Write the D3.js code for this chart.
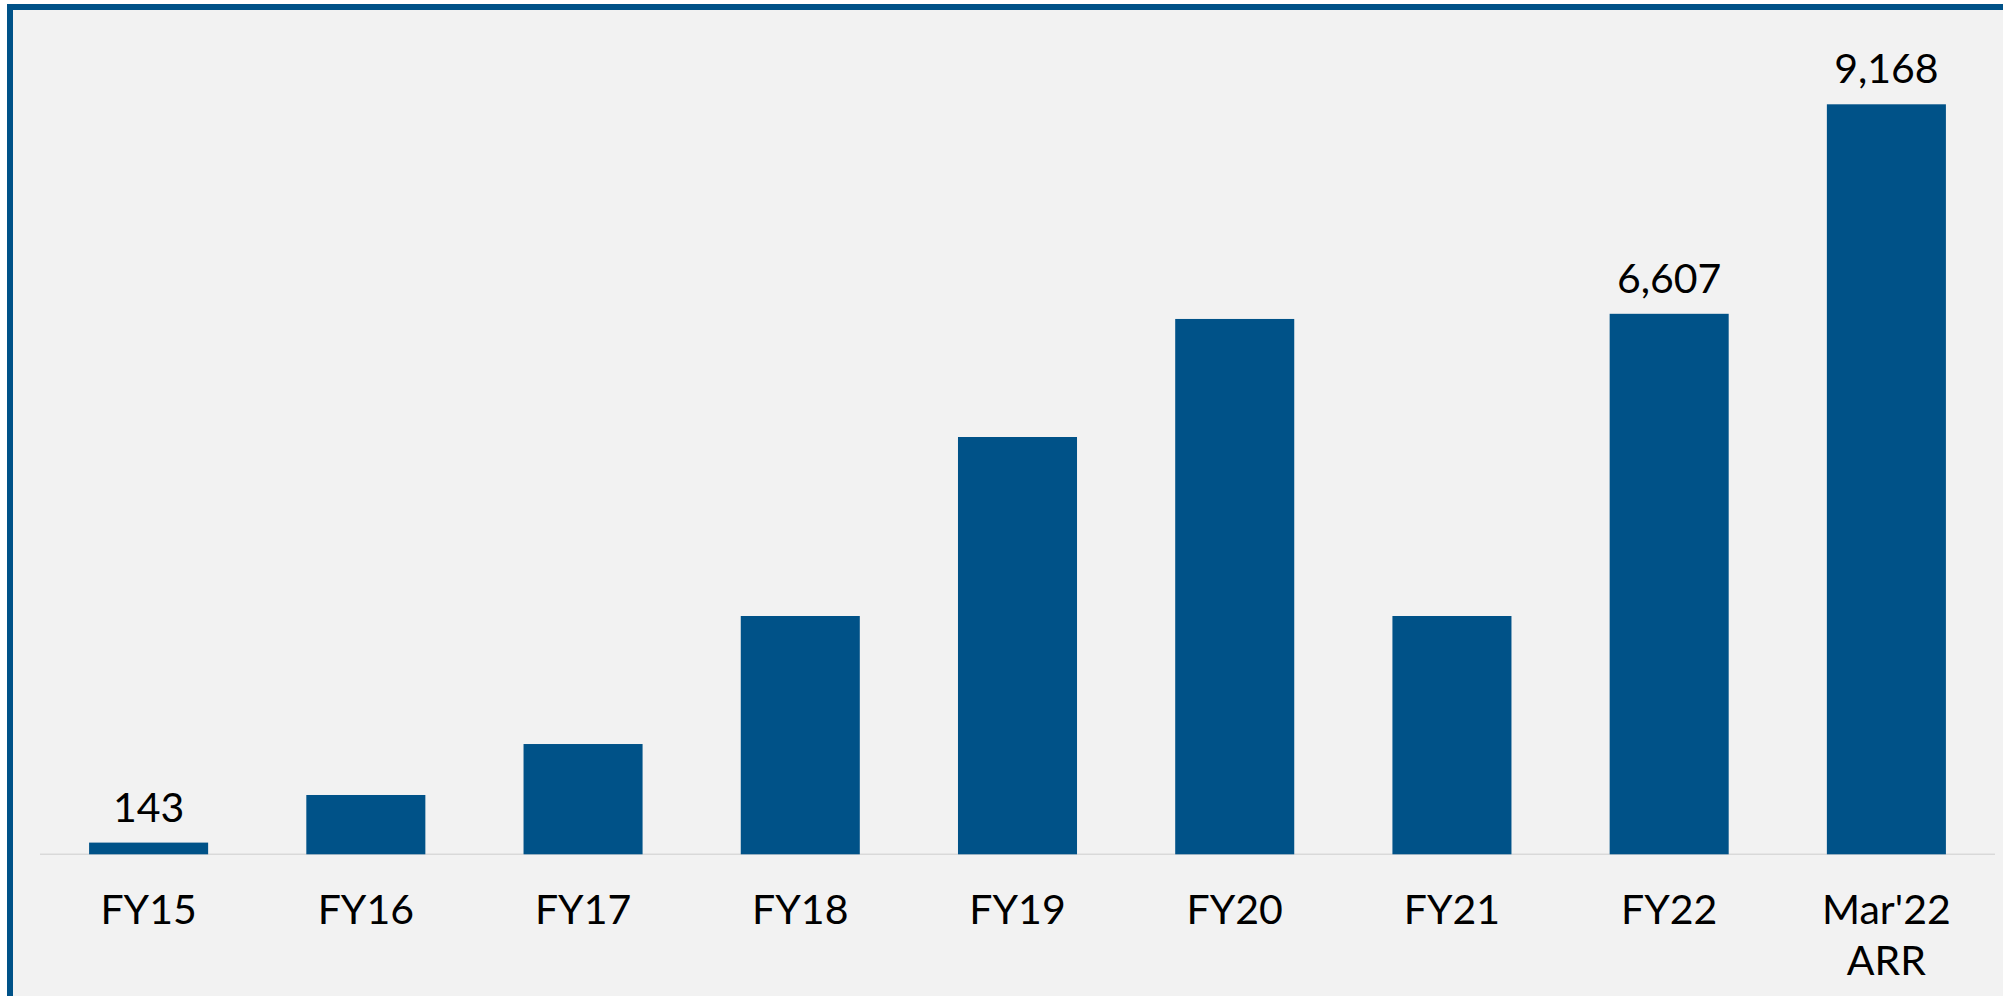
<!DOCTYPE html>
<html>
<head>
<meta charset="utf-8">
<script src="https://cdn.jsdelivr.net/npm/d3@7"></script>
<style>
  html, body { margin: 0; padding: 0; background: #ffffff; }
  svg { display: block; }
</style>
</head>
<body>
<div class="chart"></div>
<script>
// categories and values
const categories = ["FY15", "FY16", "FY17", "FY18", "FY19", "FY20", "FY21", "FY22", "Mar'22\nARR"];
const values = [143, 725, 1348, 2913, 5101, 6544, 2913, 6607, 9168];
// only some bars carry a value label
const valueLabels = ["143", "", "", "", "", "", "", "6,607", "9,168"];

const W = 2003, H = 996;
const barColor = "#005288";
const fontFamily = "Lato, 'Noto Sans', sans-serif";

const svg = d3.select(".chart")
  .append("svg")
  .attr("width", W)
  .attr("height", H);

// panel background + frame (only top and left edges visible)
svg.append("rect")
  .attr("x", 7).attr("y", 4)
  .attr("width", W - 7).attr("height", H - 4)
  .attr("fill", "#f2f2f2");
svg.append("rect")
  .attr("x", 7).attr("y", 4)
  .attr("width", W - 7).attr("height", 6)
  .attr("fill", barColor);
svg.append("rect")
  .attr("x", 7).attr("y", 4)
  .attr("width", 6).attr("height", H - 4)
  .attr("fill", barColor);

// scales
const xScale = d3.scaleBand()
  .domain(categories)
  .range([40, 1995])
  .paddingInner(0.452)
  .paddingOuter(0.226);

const yScale = d3.scaleLinear()
  .domain([0, 9168])
  .range([854.3, 104.3]);

// baseline
svg.append("line")
  .attr("x1", 40).attr("x2", 1995)
  .attr("y1", yScale(0)).attr("y2", yScale(0))
  .attr("stroke", "#d9d9d9")
  .attr("stroke-width", 1.5);

const data = categories.map((c, i) => ({ cat: c, value: values[i], label: valueLabels[i] }));

// bars
svg.selectAll("rect.bar")
  .data(data)
  .join("rect")
  .attr("class", "bar")
  .attr("x", d => xScale(d.cat))
  .attr("y", d => yScale(d.value))
  .attr("width", xScale.bandwidth())
  .attr("height", d => yScale(0) - yScale(d.value))
  .attr("fill", barColor);

// value labels
svg.selectAll("text.val")
  .data(data.filter(d => d.label !== ""))
  .join("text")
  .attr("class", "val")
  .attr("x", d => xScale(d.cat) + xScale.bandwidth() / 2)
  .attr("y", d => yScale(d.value) - 21)
  .attr("text-anchor", "middle")
  .style("font-family", fontFamily)
  .style("font-size", "41px")
  .style("fill", "#000")
  .text(d => d.label);

// category labels (multi-line allowed)
const catText = svg.selectAll("text.cat")
  .data(data)
  .join("text")
  .attr("class", "cat")
  .attr("x", d => xScale(d.cat) + xScale.bandwidth() / 2)
  .attr("y", 924)
  .attr("text-anchor", "middle")
  .style("font-family", fontFamily)
  .style("font-size", "41px")
  .style("fill", "#000");

catText.selectAll("tspan")
  .data(d => d.cat.split("\n").map(t => ({ t, x: xScale(d.cat) + xScale.bandwidth() / 2 })))
  .join("tspan")
  .attr("x", d => d.x)
  .attr("dy", (d, i) => i === 0 ? 0 : 51)
  .text(d => d.t);
</script>
</body>
</html>
